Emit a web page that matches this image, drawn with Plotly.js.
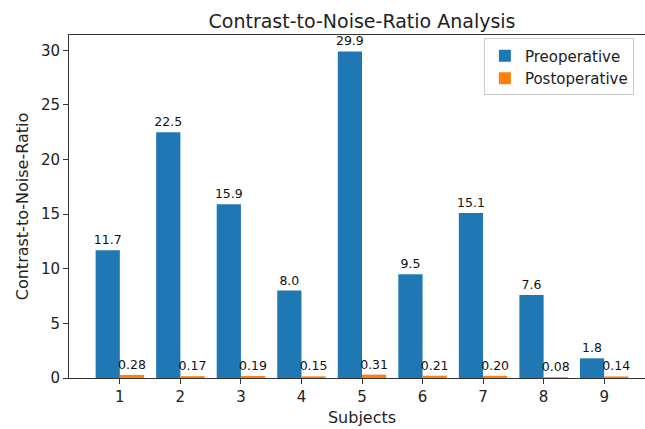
<!DOCTYPE html>
<html>
<head>
<meta charset="utf-8">
<script src="https://cdn.plot.ly/plotly-3.0.1.min.js"></script>
<style>
html, body { margin: 0; padding: 0; overflow: hidden; background: #fff; }
#chart { width: 680px; height: 429px; }
</style>
</head>
<body>
<div id="chart"></div>
<script>
const subjects = [1, 2, 3, 4, 5, 6, 7, 8, 9];
const preoperative = [11.7, 22.5, 15.9, 8.0, 29.9, 9.5, 15.1, 7.6, 1.8];
const postoperative = [0.28, 0.17, 0.19, 0.15, 0.31, 0.21, 0.20, 0.08, 0.14];
const yTicks = [0, 5, 10, 15, 20, 25, 30];

const FONT = '"DejaVu Sans", "Liberation Sans", sans-serif';
const TXT = '#222222';

const traces = [
  {
    type: 'bar', name: 'Preoperative', x: subjects, y: preoperative,
    marker: { color: '#1f77b4' },
    text: preoperative.map(v => v.toFixed(1)),
    textposition: 'outside', cliponaxis: false, constraintext: 'none',
    textfont: { family: FONT, size: 12.5, color: '#111' },
    hoverinfo: 'x+y'
  },
  {
    type: 'bar', name: 'Postoperative', x: subjects, y: postoperative,
    marker: { color: '#ff7f0e' },
    text: postoperative.map(v => v.toFixed(2)),
    textposition: 'outside', cliponaxis: false, constraintext: 'none',
    textfont: { family: FONT, size: 12.5, color: '#111' },
    hoverinfo: 'x+y'
  }
];

const layout = {
  width: 680, height: 429,
  margin: { l: 69, r: 25, t: 35, b: 51 },
  paper_bgcolor: '#fff', plot_bgcolor: '#fff',
  font: { family: FONT, color: TXT, size: 15 },
  barmode: 'group', bargap: 0.2, bargroupgap: 0,
  title: {
    text: 'Contrast-to-Noise-Ratio Analysis',
    font: { family: FONT, size: 19, color: TXT },
    x: 0.5, xref: 'paper', xanchor: 'center',
    y: 1 - 21 / 429, yref: 'container', yanchor: 'middle'
  },
  xaxis: {
    range: [0.16, 9.84],
    tickvals: subjects, ticktext: subjects.map(String),
    ticks: 'outside', ticklen: 5, tickcolor: '#333', tickwidth: 1,
    showline: true, linecolor: '#333', linewidth: 1, mirror: true,
    showgrid: false, zeroline: false,
    tickfont: { family: FONT, size: 15, color: TXT },
    title: { text: 'Subjects', font: { family: FONT, size: 16, color: TXT }, standoff: 6 }
  },
  yaxis: {
    range: [0, 31.4],
    tickvals: yTicks,
    ticks: 'outside', ticklen: 5, tickcolor: '#333', tickwidth: 1,
    showline: true, linecolor: '#333', linewidth: 1, mirror: true,
    showgrid: false, zeroline: false,
    tickfont: { family: FONT, size: 15, color: TXT },
    title: { text: 'Contrast-to-Noise-Ratio', font: { family: FONT, size: 16, color: TXT }, standoff: 8 }
  },
  legend: {
    x: 0.708, y: 0.99, xanchor: 'left', yanchor: 'top',
    bgcolor: 'rgba(255,255,255,0.9)', bordercolor: '#cccccc', borderwidth: 1,
    font: { family: FONT, size: 15, color: TXT },
    itemwidth: 30
  },
  showlegend: true
};

Plotly.newPlot('chart', traces, layout, { displayModeBar: false, staticPlot: true });
</script>
</body>
</html>
